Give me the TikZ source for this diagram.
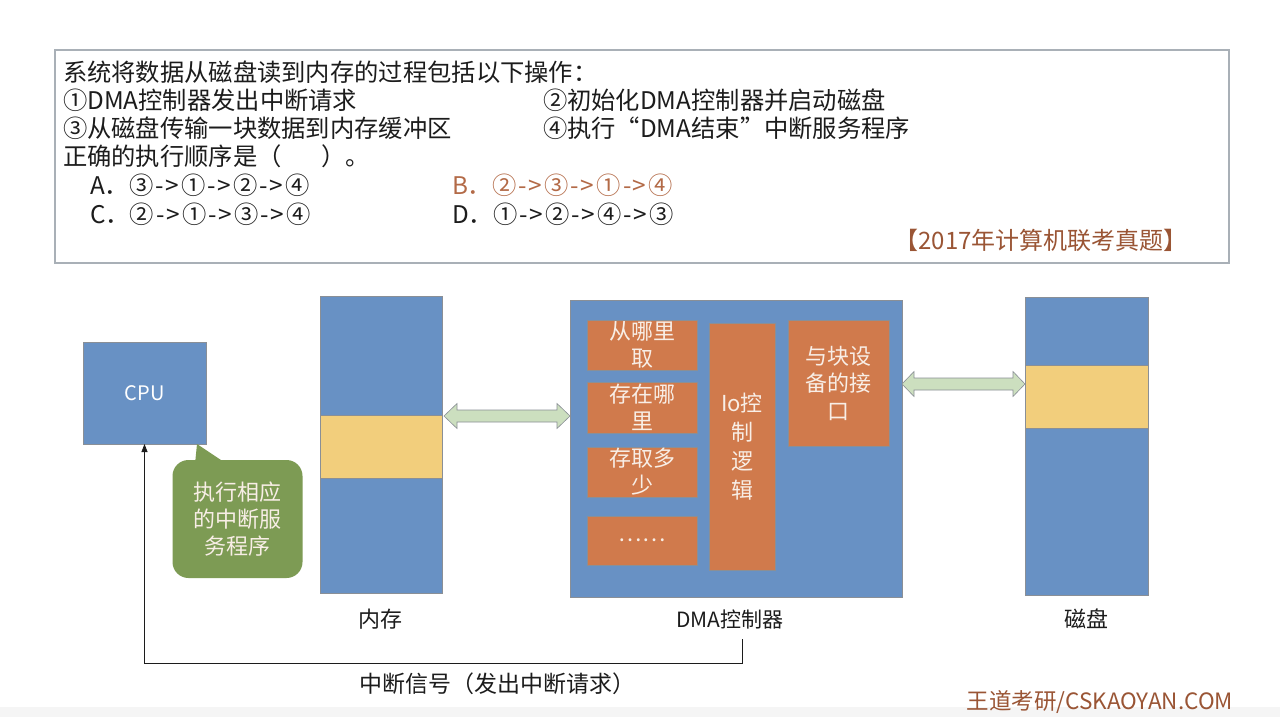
\documentclass[tikz,border=0pt]{standalone}
\usepackage{fontspec}
\setmainfont{Noto Sans CJK SC}
\usetikzlibrary{arrows.meta}
\definecolor{boxblue}{HTML}{6891C4}
\definecolor{boxorange}{HTML}{D07A4C}
\definecolor{boxyellow}{HTML}{F2CE7C}
\definecolor{callgreen}{HTML}{7D9B54}
\definecolor{arrowgreen}{HTML}{CCDFBF}
\definecolor{edgegray}{HTML}{8A8F96}
\definecolor{answerbrown}{HTML}{B36A47}
\definecolor{markbrown}{HTML}{9A5535}
\definecolor{framegray}{HTML}{A9B0B7}
\definecolor{lighttext}{HTML}{F8EEE6}
\definecolor{inktext}{HTML}{1C1C1C}
\newcommand\stepto{\hspace{2pt}-\hspace{1.5pt}>\hspace{2.5pt}}
\begin{document}
\begin{tikzpicture}[x=1pt,y=-1pt,
  every node/.style={inner sep=0pt,outer sep=0pt},
  block/.style={draw=edgegray,line width=0.5pt,fill=boxblue,anchor=north west},
  band/.style={draw=edgegray,line width=0.5pt,fill=boxyellow,anchor=north west},
  part/.style={draw=edgegray,line width=0.5pt,fill=boxorange,anchor=north west,
     text=lighttext,align=center,font=\fontsize{22}{27}\selectfont},
  qtext/.style={anchor=west,text=inktext,font=\fontsize{24.3}{28}\selectfont},
  lbl/.style={text=inktext,font=\fontsize{22}{26}\selectfont},
  bus/.style={draw=edgegray,line width=0.6pt,fill=arrowgreen},
  signal/.style={draw=inktext,line width=0.8pt,-{Triangle[length=8pt,width=6pt]}}
]
\useasboundingbox (0,0) rectangle (1280,717);
\fill[white] (0,0) rectangle (1280,717);
\fill[black!4] (0,707) rectangle (1280,717);

% question frame
\node[draw=framegray,line width=1.2pt,anchor=north west,minimum width=1174pt,minimum height=213pt] (frame) at (55,50) {};
\node[qtext] (q1) at (63,72) {系统将数据从磁盘读到内存的过程包括以下操作：};
\node[qtext] (q2a) at (63,100) {①DMA控制器发出中断请求};
\node[qtext] (q2b) at (543,100) {②初始化DMA控制器并启动磁盘};
\node[qtext] (q3a) at (63,128) {③从磁盘传输一块数据到内存缓冲区};
\node[qtext] (q3b) at (543,128) {④执行“DMA结束”中断服务程序};
\node[qtext] (q4) at (63,156) {正确的执行顺序是（\hspace{40pt}）。};
\node[qtext] (oa) at (90,185) {A．③\stepto①\stepto②\stepto④};
\node[qtext,text=answerbrown] (ob) at (452,185) {B．②\stepto③\stepto①\stepto④};
\node[qtext] (oc) at (90,214) {C．②\stepto①\stepto③\stepto④};
\node[qtext] (od) at (452,214) {D．①\stepto②\stepto④\stepto③};
\node[text=markbrown,font=\fontsize{24}{26}\selectfont] (src) at (1041,240) {【2017年计算机联考真题】};

% CPU
\node[block,minimum width=123pt,minimum height=102pt,text=white,font=\fontsize{20}{22}\selectfont] (cpu) at (83,342) {CPU};

% memory
\node[block,minimum width=122pt,minimum height=297pt] (mem) at (320,296) {};
\node[band,minimum width=122pt,minimum height=63pt] (membuf) at (320,415) {};
\node[lbl] (memlbl) at (380,619) {内存};

% DMA controller
\node[block,minimum width=332pt,minimum height=297pt] (dma) at (570,300) {};
\node[part,minimum width=110pt,minimum height=50pt] (p1) at (587,320) {从哪里\\取};
\node[part,minimum width=110pt,minimum height=51pt] (p2) at (587,382) {存在哪\\里};
\node[part,minimum width=110pt,minimum height=50pt] (p3) at (587,447) {存取多\\少};
\node[part,minimum width=110pt,minimum height=49pt] (p4) at (587,516) {……};
\node[part,minimum width=66pt,minimum height=247pt,font=\fontsize{22}{29}\selectfont] (ioc) at (709,323) {Io控\\制\\逻\\辑};
\node[part,minimum width=101pt,minimum height=126pt,font=\fontsize{22}{27.5}\selectfont] (iface) at (788,320) {与块设\\备的接\\口};
\node[lbl,font=\fontsize{21}{24}\selectfont] (dmalbl) at (730,620) {DMA控制器};

% disk
\node[block,minimum width=123pt,minimum height=298pt] (disk) at (1025,297) {};
\node[band,minimum width=123pt,minimum height=63pt] (diskbuf) at (1025,365) {};
\node[lbl] (disklbl) at (1086,619) {磁盘};

% buses
\draw[bus] (444,416) -- (457,403.5) -- (457,410) -- (557,410) -- (557,403.5) -- (570,416)
  -- (557,428.5) -- (557,422) -- (457,422) -- (457,428.5) -- cycle;
\draw[bus] (902,384) -- (914,371.5) -- (914,378) -- (1013,378) -- (1013,371.5) -- (1025,384)
  -- (1013,396.5) -- (1013,390) -- (914,390) -- (914,396.5) -- cycle;

% callout
\node[fill=callgreen,rounded corners=16pt,minimum width=130pt,minimum height=118pt,
  text=lighttext,align=center,font=\fontsize{22}{27}\selectfont] (note) at (237.5,519) {执行相应\\的中断服\\务程序};
\fill[callgreen] (195,464) -- (197,444) -- (227,464) -- cycle;

% interrupt signal
\coordinate (irqstart) at (742,639);
\coordinate (irqcorner) at (cpu.south |- 0,663);
\draw[signal] (irqstart) |- (irqcorner) -- (cpu.south);
\node[lbl,font=\fontsize{23}{26}\selectfont] (irqlbl) at (497,684) {中断信号（发出中断请求）};

% watermark
\node[text=markbrown,font=\fontsize{22.5}{24}\selectfont] (wm) at (1100,702) {王道考研/CSKAOYAN.COM};
\end{tikzpicture}
\end{document}
